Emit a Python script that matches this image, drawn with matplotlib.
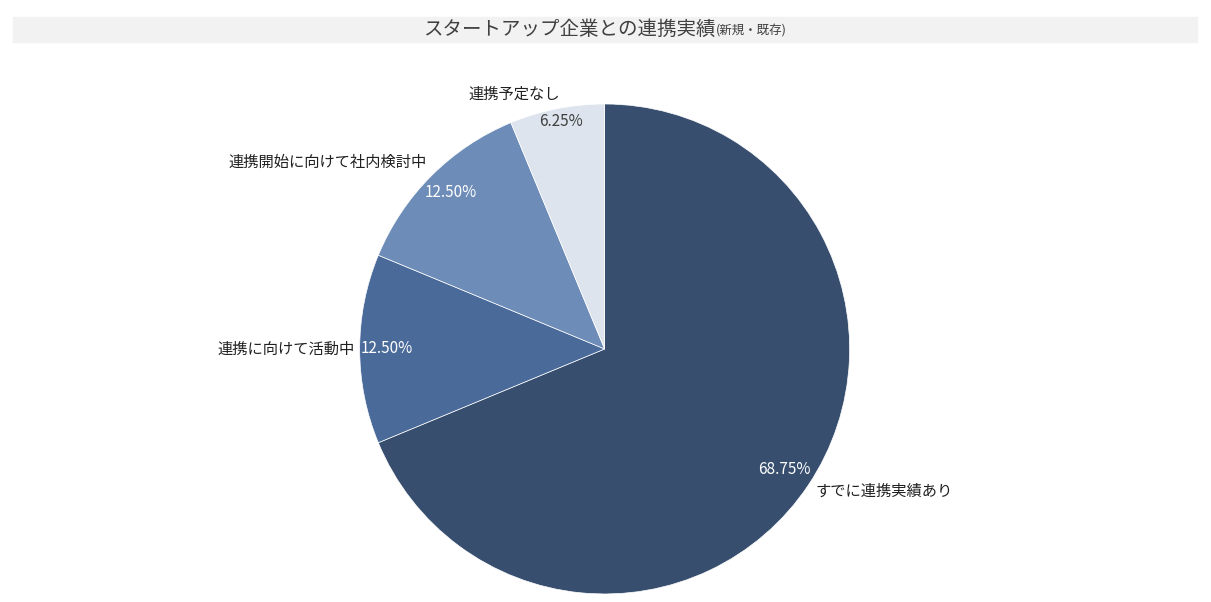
import matplotlib
matplotlib.use("Agg")
import matplotlib.pyplot as plt
from matplotlib.patches import Rectangle

plt.rcParams['font.family'] = ['Noto Sans CJK JP', 'DejaVu Sans']

categories = ["すでに連携実績あり", "連携に向けて活動中", "連携開始に向けて社内検討中", "連携予定なし"]
values = [68.75, 12.50, 12.50, 6.25]
colors = ["#374e6e", "#4a6a9a", "#6d8cb8", "#dde4ee"]

fig = plt.figure(figsize=(12.11, 6.02), dpi=100)
fig.patches.append(Rectangle((13/1211, 1-42/602), (1197-13)/1211, 25/602,
                             transform=fig.transFigure, color="#f2f2f2", zorder=0))
fig.text(0.5+110/1211, 1-29/602, "スタートアップ企業との連携実績", ha="right", va="center",
         fontsize=14, color="#404040")
fig.text(0.5+110/1211, 1-31/602, "(新規・既存)", ha="left", va="center", fontsize=9, color="#404040")

ax = fig.add_axes([0.297, 0.0133, 0.4046, 0.814])
ax.pie(values, colors=colors, startangle=90, counterclock=False,
       wedgeprops=dict(linewidth=0.5, edgecolor="white"))
ax.set_xlim(-1, 1); ax.set_ylim(-1, 1)
ax.set_aspect("equal")

pct_pos = [(0.735, -0.49, "white"), (-0.89, 0.0, "white"), (-0.63, 0.64, "white"), (-0.18, 0.93, "#404040")]
lab_pos = [(0.86, -0.58, "left"), (-1.02, 0.0, "right"), (-1.13, 0.76, "center"), (-0.37, 1.04, "center")]
for v, (px, py, c), (lx, ly, ha), name in zip(values, pct_pos, lab_pos, categories):
    ax.text(px, py, f"{v:.2f}%", ha="center", va="center", color=c, fontsize=11)
    ax.text(lx, ly, name, ha=ha, va="center", color="#202020", fontsize=11)

fig.savefig("out.png", dpi=100)
